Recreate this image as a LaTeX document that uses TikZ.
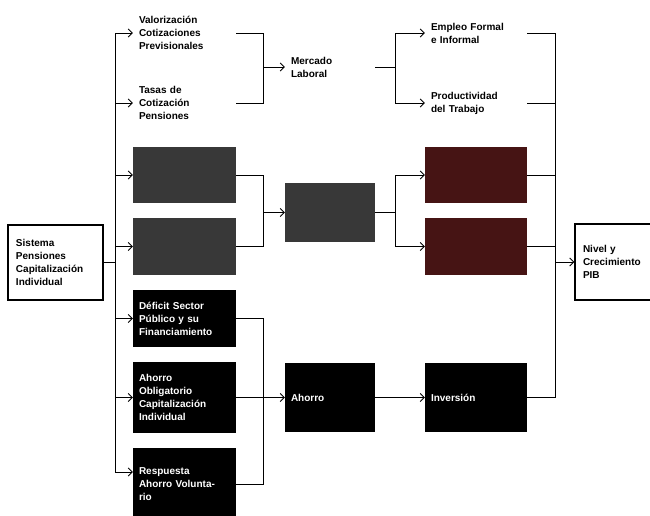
\documentclass[tikz,border=0pt]{standalone}
\usepackage{fontspec}
\setmainfont{Liberation Sans}
\usetikzlibrary{arrows.meta,positioning}
\definecolor{darkmaroon}{RGB}{70,20,20}

\begin{document}
\begin{tikzpicture}[
  x=1pt, y=-1pt,
  box/.style={rectangle, inner xsep=6pt, inner ysep=0pt, align=left,
              font=\fontsize{10}{13}\selectfont\bfseries},
  plain/.style={box},
  grey/.style={box, fill=black!78},
  greyred/.style={box, fill=darkmaroon},
  dark/.style={box, fill=black, text=white},
  frame/.style={box, draw, line width=1.3pt},
  line/.style={line width=0.9pt},
  arr/.style={line width=0.9pt, -{Straight Barb[length=4pt,width=8pt]}}
]
\clip (0,0) rectangle (650,515);
\fill[white] (0,0) rectangle (650,515);

\node[frame, text width=79pt, minimum height=75pt, inner xsep=8pt] (sis) at (55.5,262.5)
  {Sistema\\Pensiones\\Capitalización\\Individual};

\node[plain, text width=91pt, minimum height=50pt] (val) at (184.5,33) {Valorización\\Cotizaciones\\Previsionales};
\node[plain, text width=91pt, minimum height=50pt] (tas) at (184.5,103) {Tasas de\\Cotización\\Pensiones};
\node[grey, text width=91pt, minimum height=56pt] (g1) at (184.5,175) {};
\node[grey, text width=91pt, minimum height=57pt] (g2) at (184.5,246.5) {};
\node[dark, text width=91pt, minimum height=57pt] (def) at (184.5,318.5) {Déficit Sector\\Público y su\\Financiamiento};
\node[dark, text width=91pt, minimum height=71pt] (aob) at (184.5,397.5) {Ahorro\\Obligatorio\\Capitalización\\Individual};
\node[dark, text width=91pt, minimum height=72pt] (res) at (184.5,484) {Respuesta\\Ahorro Volunta-\\rio};

\node[plain, text width=78pt, minimum height=50pt] (mer) at (330,67) {Mercado\\Laboral};
\node[grey, text width=78pt, minimum height=59pt] (g3) at (330,212.5) {};
\node[dark, text width=78pt, minimum height=69pt] (aho) at (330,397.5) {Ahorro};

\node[plain, text width=90pt, minimum height=45pt] (emp) at (476,33) {Empleo Formal\\e Informal};
\node[plain, text width=90pt, minimum height=45pt] (pro) at (476,103) {Productividad\\del Trabajo};
\node[greyred, text width=90pt, minimum height=56pt] (g4) at (476,175) {};
\node[greyred, text width=90pt, minimum height=57pt] (g5) at (476,246.5) {};
\node[dark, text width=90pt, minimum height=69pt] (inv) at (476,397.5) {Inversión};

\node[frame, text width=64pt, minimum height=76pt, inner xsep=8pt] (pib) at (615,262) {Nivel y\\Crecimiento\\PIB};

\coordinate (ta) at (115,33);
\coordinate (tb) at (115,472);
\coordinate (m1) at (263,0);
\coordinate (m2) at (395,0);
\coordinate (m3) at (555,0);

\draw[line] (sis.east) -- (sis.east -| ta);
\draw[line] (ta) -- (tb);
\draw[arr] (ta) -- (val.west);
\draw[arr] (ta |- tas) -- (tas.west);
\draw[arr] (ta |- g1) -- (g1.west);
\draw[arr] (ta |- g2) -- (g2.west);
\draw[arr] (ta |- def) -- (def.west);
\draw[arr] (ta |- aob) -- (aob.west);
\draw[arr] (tb) -- ([yshift=12pt]res.west);

\draw[line] (val.east) -- (val.east -| m1) -- (tas.east -| m1) -- (tas.east);
\draw[arr] (m1 |- mer) -- (mer.west);
\draw[line] (g1.east) -- (g1.east -| m1) -- (g2.east -| m1) -- (g2.east);
\draw[arr] (m1 |- g3) -- (g3.west);
\draw[line] (def.east) -- (def.east -| m1) -- (res.east -| m1) -- (res.east);
\draw[arr] (aob.east) -- (aho.west);

\draw[line] (mer.east) -- (mer.east -| m2);
\draw[line] (m2 |- emp) -- (m2 |- pro);
\draw[arr] (m2 |- emp) -- (emp.west);
\draw[arr] (m2 |- pro) -- (pro.west);
\draw[line] (g3.east) -- (g3.east -| m2);
\draw[line] (m2 |- g4) -- (m2 |- g5);
\draw[arr] (m2 |- g4) -- (g4.west);
\draw[arr] (m2 |- g5) -- (g5.west);
\draw[arr] (aho.east) -- (inv.west);

\draw[line] (emp.east) -- (emp.east -| m3);
\draw[line] (pro.east) -- (pro.east -| m3);
\draw[line] (g4.east) -- (g4.east -| m3);
\draw[line] (g5.east) -- (g5.east -| m3);
\draw[line] (inv.east) -- (inv.east -| m3);
\draw[line] (m3 |- emp) -- (m3 |- inv);
\draw[arr] (m3 |- pib) -- (pib.west);
\end{tikzpicture}
\end{document}
